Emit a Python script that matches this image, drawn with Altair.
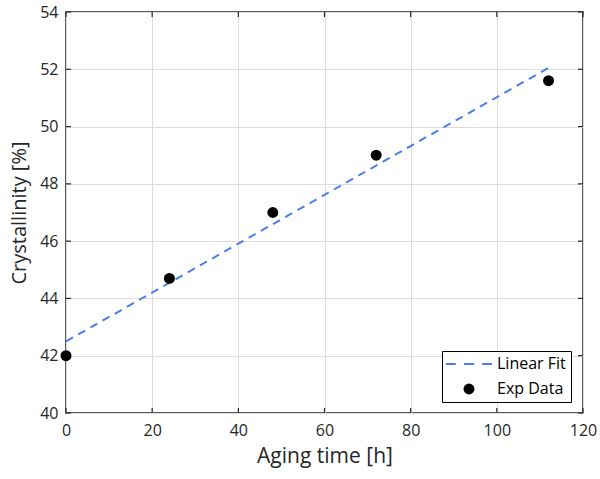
import altair as alt
import pandas as pd

# ---- data ----
exp_x = [0, 24, 48, 72, 112]
exp_y = [42.0, 44.7, 47.0, 49.0, 51.6]
fit_x = [0, 112]
fit_y = [42.5, 52.05]
x_ticks = [0, 20, 40, 60, 80, 100, 120]
y_ticks = [40, 42, 44, 46, 48, 50, 52, 54]
series = ["Linear Fit", "Exp Data"]

W, H = 517, 401
FONT = "Open Sans"
DARK = "#262626"
BLUE = "#4b7ee8"

exp_df = pd.DataFrame({"x": exp_x, "y": exp_y, "s": "Exp Data"})
fit_df = pd.DataFrame({"x": fit_x, "y": fit_y, "s": "Linear Fit"})
xt_df = pd.DataFrame({"x": x_ticks})
yt_df = pd.DataFrame({"y": y_ticks})

xscale = alt.Scale(domain=[0, 120], nice=False, zero=False)
yscale = alt.Scale(domain=[40, 54], nice=False, zero=False)

xaxis = alt.Axis(values=x_ticks, title="Aging time [h]", grid=True, ticks=False,
                 domain=False, labelPadding=9, titlePadding=7, labelFlush=False,
                 titleFontSize=21)
yaxis = alt.Axis(values=y_ticks, title="Crystallinity [%]", grid=True, ticks=False,
                 domain=False, labelPadding=8, titlePadding=10, labelFlush=False,
                 titleFontSize=20)

# dashed-line legend symbol (unit scale r = sqrt(size)/2 = 6 px)
dash_path = ("M-3.83,-0.17H-2.2V0.17H-3.83Z "
             "M-0.82,-0.17H0.82V0.17H-0.82Z "
             "M2.2,-0.17H3.83V0.17H2.2Z")

fit = alt.Chart(fit_df).mark_line(strokeWidth=2, strokeDash=[8, 6], color=BLUE).encode(
    x=alt.X("x:Q", scale=xscale, axis=xaxis),
    y=alt.Y("y:Q", scale=yscale, axis=yaxis),
)

pts = alt.Chart(exp_df).mark_point(filled=True, opacity=1).encode(
    x=alt.X("x:Q", scale=xscale),
    y=alt.Y("y:Q", scale=yscale),
    color=alt.Color("s:N", scale=alt.Scale(domain=series, range=[BLUE, "black"]),
                    legend=alt.Legend(title=None, orient="none", legendX=376, legendY=339)),
    shape=alt.Shape("s:N", scale=alt.Scale(domain=series, range=[dash_path, "circle"])),
    size=alt.Size("s:N", scale=alt.Scale(domain=series, range=[144, 120])),
)

tb = alt.Chart(xt_df).mark_rule(color=DARK, strokeWidth=1.2).encode(
    x=alt.X("x:Q", scale=xscale), y=alt.value(H - 5), y2=alt.value(H))
tt = alt.Chart(xt_df).mark_rule(color=DARK, strokeWidth=1.2).encode(
    x=alt.X("x:Q", scale=xscale), y=alt.value(0), y2=alt.value(5))
tl = alt.Chart(yt_df).mark_rule(color=DARK, strokeWidth=1.2).encode(
    y=alt.Y("y:Q", scale=yscale), x=alt.value(0), x2=alt.value(5))
tr = alt.Chart(yt_df).mark_rule(color=DARK, strokeWidth=1.2).encode(
    y=alt.Y("y:Q", scale=yscale), x=alt.value(W - 5), x2=alt.value(W))

chart = alt.layer(tb, tt, tl, tr, fit, pts).properties(
    width=W, height=H,
    autosize=alt.AutoSizeParams(type="none"),
    padding={"left": 66, "top": 12, "right": 17, "bottom": 66},
).configure_view(
    stroke=DARK, strokeWidth=1.5
).configure_axis(
    labelFont=FONT, labelFontSize=16, labelColor=DARK,
    titleFont=FONT, titleColor=DARK, titleFontWeight="normal",
    gridColor="#dcdcdc", gridWidth=1,
).configure_legend(
    labelFont=FONT, labelFontSize=16, labelColor="black",
    strokeColor="black", fillColor="white", padding=5, rowPadding=9,
    symbolOffset=14, labelOffset=20, cornerRadius=0,
)

chart.save("out.html", embed_options={"renderer": "svg", "actions": False})
